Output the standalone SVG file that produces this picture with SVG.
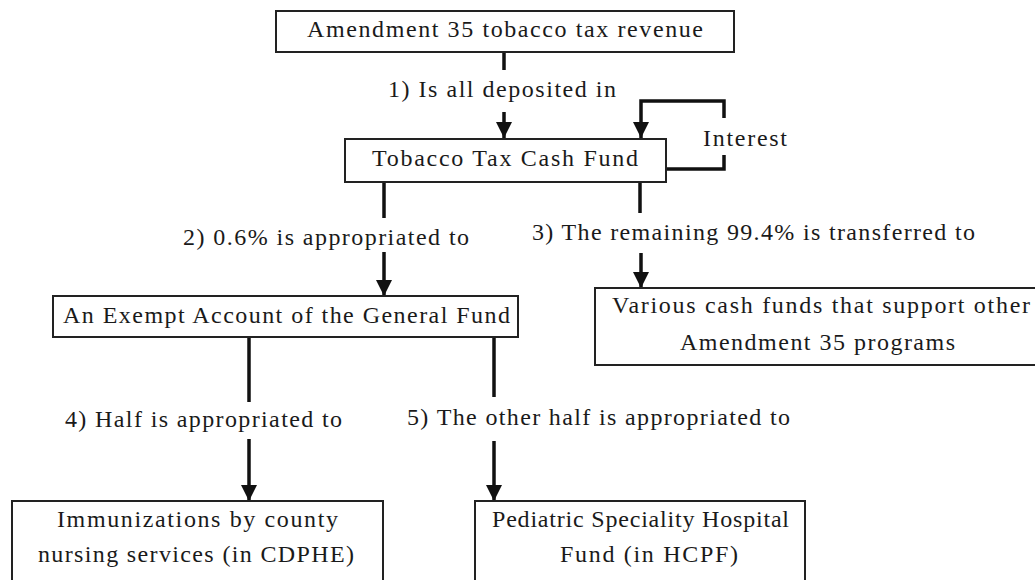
<svg xmlns="http://www.w3.org/2000/svg" width="1035" height="580" viewBox="0 0 1035 580">
<style>
.box{fill:#fff;stroke:#222;stroke-width:2}
.t{font-family:"Liberation Serif","Times New Roman",serif;font-size:24px;fill:#1a1a1a}
.c{fill:none;stroke:#111;stroke-width:3.5}
</style>
<defs>
<marker id="ah" viewBox="0 0 10 10" refX="10" refY="5" markerWidth="4.6" markerHeight="4.6" markerUnits="strokeWidth" orient="auto">
<path d="M0,0 L10,5 L0,10 z" fill="#111"/>
</marker>
</defs>
<rect width="1035" height="580" fill="#fff"/>
<g id="connectors">
<line class="c" x1="504" y1="52" x2="504" y2="70"/>
<line class="c" x1="504" y1="112" x2="504" y2="138" marker-end="url(#ah)"/>
<polyline class="c" points="666,169 724,169 724,155"/>
<polyline class="c" points="724,118 724,101 641,101 641,138" marker-end="url(#ah)"/>
<line class="c" x1="384" y1="182" x2="384" y2="218"/>
<line class="c" x1="384" y1="252" x2="384" y2="296" marker-end="url(#ah)"/>
<line class="c" x1="640" y1="182" x2="640" y2="213"/>
<line class="c" x1="641" y1="253" x2="641" y2="288" marker-end="url(#ah)"/>
<line class="c" x1="249" y1="337" x2="249" y2="402"/>
<line class="c" x1="249" y1="439" x2="249" y2="501" marker-end="url(#ah)"/>
<line class="c" x1="494" y1="337" x2="494" y2="397"/>
<line class="c" x1="494" y1="441" x2="494" y2="501" marker-end="url(#ah)"/>
</g>
<g id="labels">
<text class="t" x="388" y="97" textLength="228" lengthAdjust="spacing">1)  Is all deposited in</text>
<text class="t" x="703" y="146" textLength="84" lengthAdjust="spacing">Interest</text>
<text class="t" x="183" y="245" textLength="286" lengthAdjust="spacing">2)  0.6% is  appropriated to</text>
<text class="t" x="532" y="240" textLength="443" lengthAdjust="spacing">3)  The remaining 99.4% is transferred to</text>
<text class="t" x="65" y="427" textLength="277" lengthAdjust="spacing">4)  Half is appropriated to</text>
<text class="t" x="407" y="425" textLength="383" lengthAdjust="spacing">5)  The  other half is appropriated to</text>
</g>
<g id="n-revenue">
<rect class="box" x="276" y="11" width="458" height="41"/>
<text class="t" x="307" y="37" textLength="396" lengthAdjust="spacing">Amendment 35 tobacco tax  revenue</text>
</g>
<g id="n-cashfund">
<rect class="box" x="345" y="139" width="321" height="43"/>
<text class="t" x="372" y="166" textLength="266" lengthAdjust="spacing">Tobacco Tax Cash Fund</text>
</g>
<g id="n-exempt">
<rect class="box" x="53" y="296" width="465" height="41"/>
<text class="t" x="63" y="323" textLength="447" lengthAdjust="spacing">An Exempt  Account of the General Fund</text>
</g>
<g id="n-various">
<rect class="box" x="595" y="288" width="460" height="77"/>
<text class="t" x="612" y="313" textLength="418" lengthAdjust="spacing">Various cash funds that support other</text>
<text class="t" x="680" y="350" textLength="275" lengthAdjust="spacing">Amendment 35 programs</text>
</g>
<g id="n-immunizations">
<rect class="box" x="12" y="501" width="371" height="90"/>
<text class="t" x="57" y="527" textLength="281" lengthAdjust="spacing">Immunizations by county</text>
<text class="t" x="38" y="562" textLength="316" lengthAdjust="spacing">nursing services (in CDPHE)</text>
</g>
<g id="n-pediatric">
<rect class="box" x="475" y="501" width="330" height="90"/>
<text class="t" x="492" y="527" textLength="297" lengthAdjust="spacing">Pediatric Speciality Hospital</text>
<text class="t" x="560" y="562" textLength="178" lengthAdjust="spacing">Fund (in HCPF)</text>
</g>
</svg>
